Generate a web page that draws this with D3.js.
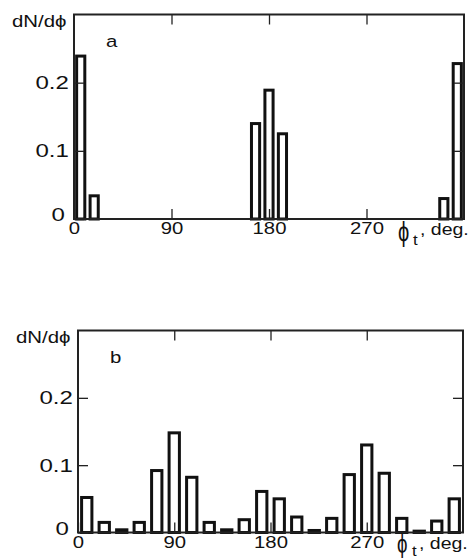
<!DOCTYPE html>
<html>
<head>
<meta charset="utf-8">
<script src="https://cdn.jsdelivr.net/npm/d3@7"></script>
<style>
  body { margin: 0; background: #fff; }
  svg text { font-family: "Liberation Sans", Arial, sans-serif; fill: #111; }
</style>
</head>
<body>
<div id="chart"></div>
<script>
// Data
var valuesA = [0.239, 0.034, 0, 0, 0, 0, 0, 0, 0, 0, 0, 0, 0,
               0.140, 0.189, 0.125, 0, 0, 0, 0, 0, 0, 0, 0, 0, 0, 0,
               0.030, 0.228];
var valuesB = [0.052, 0.015, 0.004, 0.015, 0.092, 0.148, 0.082, 0.015,
               0.004, 0.019, 0.061, 0.050, 0.023, 0.003, 0.021, 0.086,
               0.130, 0.088, 0.021, 0.002, 0.017, 0.050];
var xTicks = [0, 90, 180, 270];
var yTicks = [0, 0.1, 0.2];
var panelNames = ['a', 'b'];

var svgWidth = 474;
var svgHeight = 559;

var svg = d3.select('#chart')
    .append('svg')
    .attr('width', svgWidth)
    .attr('height', svgHeight);

// horizontally stretched text, like the scanned figure
function label(g, x, y, txt, size, sx) {
    return g.append('text')
        .attr('transform', `translate(${x},${y}) scale(${sx},1)`)
        .style('font-size', size + 'px')
        .text(txt);
}

function drawPanel(values, name, box, pad, lab) {
    var x = d3.scaleLinear().domain([0, 360]).range([box.left, box.right]);
    var y = d3.scaleLinear().domain([0, 0.3]).range([box.bottom, box.top]);
    var band = d3.scaleBand()
        .domain(d3.range(values.length))
        .range([box.left, box.right])
        .paddingInner(pad)
        .paddingOuter(pad / 2);

    var g = svg.append('g');

    // bars
    g.selectAll('rect.bar')
        .data(values.map((v, i) => ({i: i, v: v})).filter(d => d.v > 0))
        .enter()
        .append('rect')
        .attr('class', 'bar')
        .attr('x', d => band(d.i) + 1.5)
        .attr('width', band.bandwidth() - 3)
        .attr('y', d => y(d.v))
        .attr('height', d => y(0) - y(d.v))
        .attr('fill', '#fff')
        .attr('stroke', '#111')
        .attr('stroke-width', 3);

    // inward ticks on all four sides
    var bottom = g.append('g')
        .attr('transform', `translate(0,${y(0)})`)
        .call(d3.axisBottom(x).tickValues(xTicks).tickSizeInner(-10).tickSizeOuter(0).tickPadding(4));
    bottom.selectAll('text')
        .style('font-size', '16px')
        .attr('transform', 'scale(1.27,1)');

    g.append('g')
        .attr('transform', `translate(0,${y(0.3)})`)
        .call(d3.axisTop(x).tickValues(xTicks.slice(1)).tickSizeInner(-10).tickSizeOuter(0).tickFormat(''));

    var left = g.append('g')
        .attr('transform', `translate(${box.left},0)`)
        .call(d3.axisLeft(y).tickValues(yTicks).tickSizeInner(-10).tickSizeOuter(0).tickPadding(4)
            .tickFormat(d => d === 0 ? '0' : d3.format('.1f')(d)));
    left.selectAll('text')
        .style('font-size', '18.5px')
        .attr('transform', d => d === 0 ? 'translate(-4,-4) scale(1.3,1)' : 'scale(1.3,1)');

    g.append('g')
        .attr('transform', `translate(${box.right},0)`)
        .call(d3.axisRight(y).tickValues(yTicks.slice(1)).tickSizeInner(-10).tickSizeOuter(0).tickFormat(''));

    g.selectAll('.domain').remove();
    g.selectAll('.tick line').attr('stroke', '#222').attr('stroke-width', 1.3);
    g.selectAll('.tick text').attr('fill', '#111')
        .style('font-family', '"Liberation Sans", Arial, sans-serif');

    // frame
    g.append('rect')
        .attr('x', box.left)
        .attr('y', y(0.3))
        .attr('width', box.right - box.left)
        .attr('height', y(0) - y(0.3))
        .attr('fill', 'none')
        .attr('stroke', '#222')
        .attr('stroke-width', 2);

    // labels
    label(g, box.left - 62, box.top + 12, 'dN/dϕ', 17, 1.2);
    label(g, box.left + 32, box.top + 32, name, 17, 1.2);
    var y0 = y(0);
    label(g, box.right - 66, y0 + lab.phi, 'ϕ', lab.size, 0.72);
    label(g, box.right - 51, y0 + lab.sub, 't', 14, 1.2);
    label(g, box.right - 44, y0 + 16, ', deg.', 16, 1.22);
}

drawPanel(valuesA, panelNames[0], {left: 74, right: 464, top: 14.5, bottom: 219}, 0.17,
    {phi: 22, sub: 26, size: 28});
drawPanel(valuesB, panelNames[1], {left: 78, right: 463, top: 330.5, bottom: 532.5}, 0.24,
    {phi: 20, sub: 23.5, size: 26});
</script>
</body>
</html>
